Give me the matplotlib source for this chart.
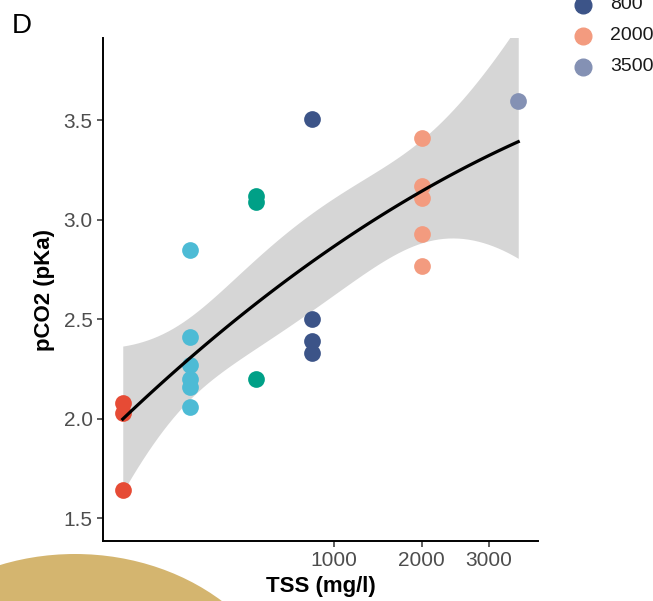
import numpy as np
import matplotlib
matplotlib.use("Agg")
from matplotlib import pyplot as plt
from matplotlib.patches import Ellipse
from matplotlib.lines import Line2D

plt.rcParams["font.family"] = ["Liberation Sans", "DejaVu Sans"]

# groups (TSS, mg/l) and their colours
groups = [0, 100, 400, 800, 2000, 3500]
colors = ["#E64B35", "#4DBBD5", "#00A087", "#3C5488", "#F39B7F", "#8491B4"]

# pCO2 readings per group
pco2 = {
    0: [2.08, 2.03, 1.64],
    100: [2.85, 2.41, 2.27, 2.20, 2.16, 2.06],
    400: [3.12, 3.09, 2.20],
    800: [3.51, 2.50, 2.39, 2.33],
    2000: [3.41, 3.17, 3.11, 2.93, 2.77],
    3500: [3.60],
}

# only the bottom of the legend is inside the picture
legend_shown = [800, 2000, 3500]

x_ticks = [1000, 2000, 3000]
y_ticks = [1.5, 2.0, 2.5, 3.0, 3.5]


def fwd(v):
    v = np.asarray(v, dtype=float)
    return np.sign(v) * np.sqrt(np.abs(v))


def inv(v):
    v = np.asarray(v, dtype=float)
    return np.sign(v) * v ** 2


tss = np.concatenate([[g] * len(pco2[g]) for g in groups]).astype(float)
y = np.concatenate([pco2[g] for g in groups])

# quadratic fit on sqrt(x) with 95% band
s = np.sqrt(tss)
X = np.column_stack([np.ones_like(s), s, s ** 2])
beta, *_ = np.linalg.lstsq(X, y, rcond=None)
resid = y - X @ beta
sigma2 = resid @ resid / (len(y) - 3)
cov = np.linalg.inv(X.T @ X) * sigma2
sg = np.linspace(0, np.sqrt(max(groups)), 80)
Xg = np.column_stack([np.ones_like(sg), sg, sg ** 2])
fit = Xg @ beta
se = np.sqrt(np.einsum("ij,jk,ik->i", Xg, cov, Xg))
tq = 2.093  # t(0.975, df=19)
xg = sg ** 2

fig = plt.figure(figsize=(6.53, 6.01), dpi=100)
ax = fig.add_axes([0.1577, 0.0998, 0.6662, 0.837])
ax.set_xscale("function", functions=(fwd, inv))

ax.fill_between(xg, fit - tq * se, fit + tq * se, color="#D6D6D6", lw=0, zorder=1)
for g, c in zip(groups, colors):
    ax.scatter([g] * len(pco2[g]), pco2[g], s=145, color=c, lw=0, zorder=3)
ax.plot(xg, fit, color="black", lw=2.3, zorder=4)

ax.set_xlim(inv(-0.05 * np.sqrt(3500)), inv(1.05 * np.sqrt(3500)))
ax.set_ylim(1.385, 3.915)
ax.set_xticks(x_ticks)
ax.set_xticklabels([str(t) for t in x_ticks])
ax.set_yticks(y_ticks)
ax.set_yticklabels(["%.1f" % t for t in y_ticks])
ax.minorticks_off()
ax.tick_params(labelsize=15, labelcolor="#4D4D4D", color="#333333", length=4, width=1.1)

for side in ["top", "right"]:
    ax.spines[side].set_visible(False)
for side in ["left", "bottom"]:
    ax.spines[side].set_linewidth(1.4)

ax.set_xlabel("TSS (mg/l)", fontsize=16, fontweight="bold", labelpad=4)
ax.set_ylabel("pCO2 (pKa)", fontsize=16, fontweight="bold", labelpad=6)

fig.text(0.018, 0.945, "D", fontsize=20)

# legend
ly0 = 1 - 66.5 / 601
for i, g in enumerate(reversed(legend_shown)):
    c = colors[groups.index(g)]
    yy = ly0 + i * 30.8 / 601
    fig.add_artist(Line2D([583 / 653], [yy], marker="o", markersize=12, color=c,
                          lw=0, transform=fig.transFigure))
    fig.text(610 / 653, yy, str(g), fontsize=14, va="center", color="#1A1A1A")

# decorative blob at the bottom-left
fig.add_artist(Ellipse((75 / 653, 1 - 738 / 601), 440 / 653, 368 / 601,
                       transform=fig.transFigure, color="#D4B56F", lw=0, zorder=10))

fig.savefig("out.png", dpi=100)
